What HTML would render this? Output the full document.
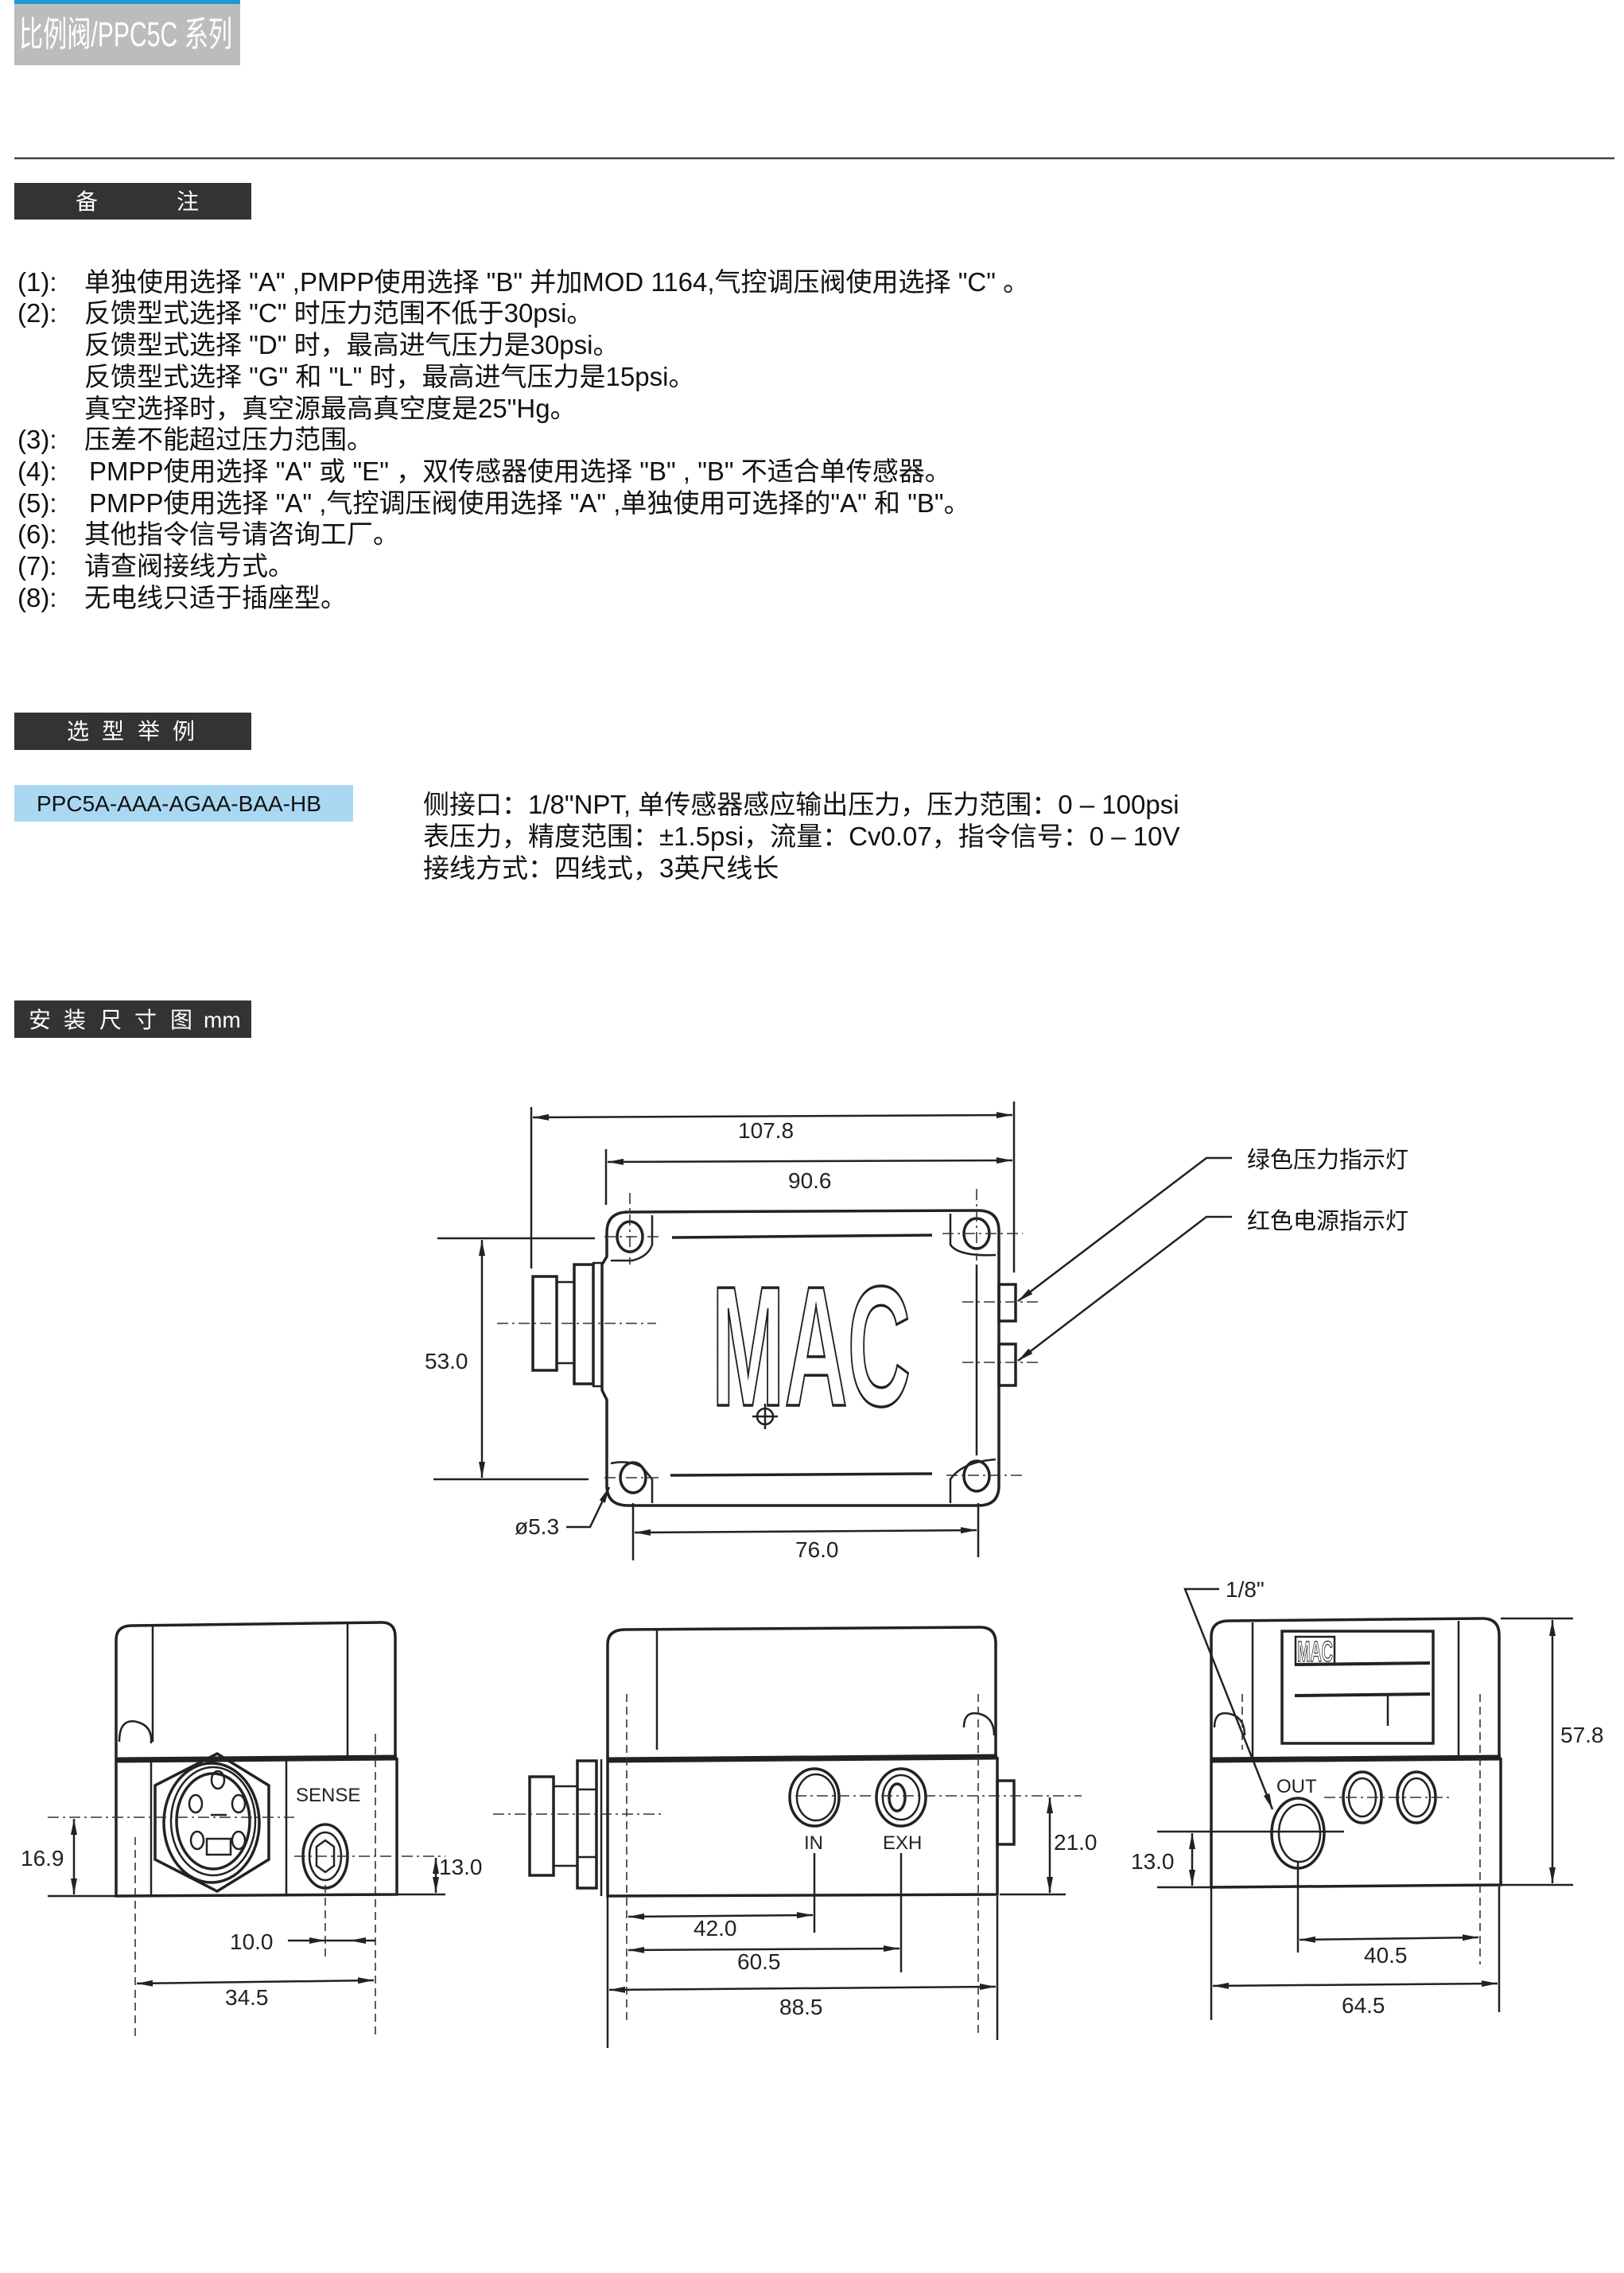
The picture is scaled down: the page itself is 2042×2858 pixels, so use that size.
<!DOCTYPE html>
<html><head><meta charset="utf-8"><style>
html,body{margin:0;padding:0;background:#fff;}
svg{display:block;}
.t{font-family:"Liberation Sans","Noto Sans CJK SC",sans-serif;fill:#111;}
.d{font-family:"Liberation Sans",sans-serif;font-size:28px;fill:#222;}
.ln{stroke:#222;stroke-width:2.5;fill:none;}
.bd{stroke:#222;stroke-width:3.5;fill:none;}
.cl{stroke:#333;stroke-width:1.6;fill:none;stroke-dasharray:14 5 3 5;}
.dh{stroke:#333;stroke-width:1.6;fill:none;stroke-dasharray:10 6;}
</style></head><body>
<svg width="2042" height="2858" viewBox="0 0 2042 2858" xmlns="http://www.w3.org/2000/svg">
<defs>
<marker id="a" viewBox="0 0 20 10" refX="20" refY="5" markerWidth="20" markerHeight="10" markerUnits="userSpaceOnUse" orient="auto-start-reverse"><path d="M0,1 L20,5 L0,9 Z" fill="#222"/></marker>
</defs>
<!-- header -->
<rect x="18" y="0" width="284" height="82" fill="#bcbcbc"/>
<rect x="18" y="0" width="284" height="5" fill="#1a9ad6"/>
<text x="24" y="58" class="t" style="font-size:44px;fill:#fff" textLength="268" lengthAdjust="spacingAndGlyphs">比例阀/PPC5C 系列</text>
<line x1="18" y1="199" x2="2030" y2="199" stroke="#444" stroke-width="2.5"/>

<!-- 备注 -->
<rect x="18" y="230" width="298" height="46" fill="#333"/>
<text x="95" y="263" class="t" style="font-size:28px;fill:#fff">备</text>
<text x="222" y="263" class="t" style="font-size:28px;fill:#fff">注</text>

<g class="t" style="font-size:33px">
<text x="22" y="366">(1):</text><text x="106" y="366">单独使用选择 "A" ,PMPP使用选择 "B" 并加MOD 1164,气控调压阀使用选择 "C" 。</text>
<text x="22" y="405">(2):</text><text x="106" y="405">反馈型式选择 "C" 时压力范围不低于30psi。</text>
<text x="106" y="445">反馈型式选择 "D" 时，最高进气压力是30psi。</text>
<text x="106" y="485">反馈型式选择 "G" 和 "L" 时，最高进气压力是15psi。</text>
<text x="106" y="525">真空选择时，真空源最高真空度是25"Hg。</text>
<text x="22" y="564">(3):</text><text x="106" y="564">压差不能超过压力范围。</text>
<text x="22" y="604">(4):</text><text x="112" y="604">PMPP使用选择 "A" 或 "E" ，双传感器使用选择 "B" , "B" 不适合单传感器。</text>
<text x="22" y="644">(5):</text><text x="112" y="644">PMPP使用选择 "A" ,气控调压阀使用选择 "A" ,单独使用可选择的"A" 和 "B"。</text>
<text x="22" y="683">(6):</text><text x="106" y="683">其他指令信号请咨询工厂。</text>
<text x="22" y="723">(7):</text><text x="106" y="723">请查阀接线方式。</text>
<text x="22" y="763">(8):</text><text x="106" y="763">无电线只适于插座型。</text>
</g>

<!-- 选型举例 -->
<rect x="18" y="896" width="298" height="47" fill="#333"/>
<g class="t" style="font-size:28px;fill:#fff"><text x="84" y="929">选</text><text x="128" y="929">型</text><text x="173" y="929">举</text><text x="217" y="929">例</text></g>
<rect x="18" y="987" width="426" height="46" fill="#aad8f2"/>
<text x="46" y="1020" class="t" style="font-size:28px">PPC5A-AAA-AGAA-BAA-HB</text>
<g class="t" style="font-size:33px">
<text x="532" y="1023">侧接口：1/8"NPT, 单传感器感应输出压力，压力范围：0 – 100psi</text>
<text x="532" y="1063">表压力，精度范围：±1.5psi，流量：Cv0.07，指令信号：0 – 10V</text>
<text x="532" y="1103">接线方式：四线式，3英尺线长</text>
</g>

<!-- 安装尺寸图 -->
<rect x="18" y="1258" width="298" height="47" fill="#333"/>
<g class="t" style="font-size:28px;fill:#fff"><text x="36" y="1292">安</text><text x="80" y="1292">装</text><text x="125" y="1292">尺</text><text x="169" y="1292">寸</text><text x="214" y="1292">图</text><text x="256" y="1292">mm</text></g>

<!-- ===== TOP VIEW ===== -->
<g>
<path class="bd" d="M790,1524 L1230,1522 Q1256,1522 1256,1548 L1256,1868 Q1256,1893 1230,1893 L790,1893 Q763,1893 763,1868 L763,1760 L757,1748 L757,1590 L763,1580 L763,1550 Q763,1524 790,1524 Z"/>
<path class="ln" d="M820,1528 L820,1565 Q815,1580 795,1585 L768,1585"/>
<path class="ln" d="M768,1840 Q790,1835 808,1845 L820,1860 L820,1890"/>
<path class="ln" d="M1195,1526 L1195,1565 Q1205,1580 1252,1578"/>
<path class="ln" d="M1252,1835 Q1210,1838 1195,1860 L1195,1890"/>
<line class="ln" x1="1228" y1="1590" x2="1228" y2="1830"/>
<line class="bd" x1="845" y1="1556" x2="1172" y2="1553"/>
<line class="bd" x1="843" y1="1855" x2="1172" y2="1853"/>
<ellipse class="bd" cx="792" cy="1555" rx="16" ry="19"/>
<ellipse class="bd" cx="1228" cy="1551" rx="16" ry="19"/>
<ellipse class="bd" cx="796" cy="1858" rx="16" ry="19"/>
<ellipse class="bd" cx="1228" cy="1856" rx="16" ry="19"/>
<!-- connector -->
<rect class="bd" x="670" y="1605" width="30" height="118"/>
<rect class="ln" x="700" y="1612" width="22" height="102"/>
<rect class="bd" x="722" y="1590" width="24" height="150"/>
<rect class="ln" x="746" y="1588" width="11" height="155"/>
<!-- LEDs -->
<rect class="bd" x="1256" y="1615" width="21" height="46"/>
<rect class="bd" x="1256" y="1690" width="21" height="52"/>
<!-- MAC -->
<text x="895" y="1767" textLength="250" lengthAdjust="spacingAndGlyphs" style="font-family:'Liberation Sans',sans-serif;font-weight:bold;font-size:215px;fill:#fff;stroke:#222;stroke-width:3.5">MAC</text>
<circle class="ln" cx="962" cy="1781" r="10"/>
<line class="ln" x1="946" y1="1781" x2="978" y2="1781"/><line class="ln" x1="962" y1="1765" x2="962" y2="1797"/>
<!-- centerlines -->
<line class="cl" x1="625" y1="1664" x2="825" y2="1664"/>
<line class="cl" x1="760" y1="1555" x2="830" y2="1555"/>
<line class="cl" x1="1185" y1="1551" x2="1286" y2="1551"/>
<line class="cl" x1="760" y1="1858" x2="830" y2="1858"/>
<line class="cl" x1="1190" y1="1855" x2="1290" y2="1855"/>
<line class="cl" x1="1210" y1="1637" x2="1310" y2="1637"/>
<line class="cl" x1="1210" y1="1713" x2="1310" y2="1713"/>
<line class="cl" x1="792" y1="1500" x2="792" y2="1590"/>
<line class="cl" x1="1228" y1="1495" x2="1228" y2="1585"/>
<!-- dims -->
<line class="ln" x1="668" y1="1392" x2="668" y2="1595"/>
<line class="ln" x1="1275" y1="1385" x2="1275" y2="1600"/>
<line class="ln" x1="762" y1="1445" x2="762" y2="1515"/>
<line class="ln" x1="670" y1="1405" x2="1273" y2="1402" marker-start="url(#a)" marker-end="url(#a)"/>
<text x="928" y="1431" class="d">107.8</text>
<line class="ln" x1="764" y1="1461" x2="1273" y2="1459" marker-start="url(#a)" marker-end="url(#a)"/>
<text x="991" y="1494" class="d">90.6</text>
<line class="ln" x1="550" y1="1557" x2="748" y2="1557"/>
<line class="ln" x1="545" y1="1860" x2="740" y2="1860"/>
<line class="ln" x1="606" y1="1559" x2="606" y2="1858" marker-start="url(#a)" marker-end="url(#a)"/>
<text x="534" y="1721" class="d">53.0</text>
<line class="ln" x1="796" y1="1890" x2="796" y2="1962"/>
<line class="ln" x1="1230" y1="1890" x2="1230" y2="1958"/>
<line class="ln" x1="798" y1="1927" x2="1228" y2="1924" marker-start="url(#a)" marker-end="url(#a)"/>
<text x="1000" y="1958" class="d">76.0</text>
<text x="647" y="1929" class="d">ø5.3</text>
<polyline class="ln" points="712,1920 742,1920 766,1870" marker-end="url(#a)"/>
<!-- callouts -->
<text x="1568" y="1468" class="t" style="font-size:29px">绿色压力指示灯</text>
<text x="1568" y="1545" class="t" style="font-size:29px">红色电源指示灯</text>
<polyline class="ln" points="1549,1456 1517,1456 1280,1636" marker-end="url(#a)"/>
<polyline class="ln" points="1549,1530 1517,1530 1280,1711" marker-end="url(#a)"/>
</g>

<!-- ===== LEFT END VIEW ===== -->
<g>
<path class="bd" d="M146,2212 L146,2062 Q146,2044 166,2044 L480,2040 Q497,2040 497,2058 L497,2212"/>
<line class="ln" x1="192" y1="2044" x2="192" y2="2190"/>
<line class="ln" x1="437" y1="2042" x2="437" y2="2210"/>
<path class="ln" d="M150,2190 Q150,2160 172,2165 Q192,2170 190,2192"/>
<line x1="146" y1="2213" x2="499" y2="2210" stroke="#222" stroke-width="7"/>
<path class="bd" d="M146,2212 L146,2384 L499,2382 L499,2210"/>
<line class="ln" x1="190" y1="2214" x2="190" y2="2384"/>
<line class="ln" x1="360" y1="2212" x2="360" y2="2383"/>
<polygon class="bd" points="273,2205 338,2245 338,2338 273,2378 195,2338 195,2245"/>
<ellipse class="bd" cx="266" cy="2292" rx="60" ry="75"/>
<ellipse class="ln" cx="268" cy="2290" rx="53" ry="68"/>
<ellipse class="bd" cx="268" cy="2290" rx="46" ry="60"/>
<ellipse class="ln" cx="274" cy="2238" rx="8" ry="11"/>
<ellipse class="ln" cx="246" cy="2268" rx="8" ry="11"/>
<ellipse class="ln" cx="300" cy="2268" rx="8" ry="11"/>
<ellipse class="ln" cx="248" cy="2314" rx="8" ry="11"/>
<ellipse class="ln" cx="300" cy="2314" rx="8" ry="11"/>
<rect class="ln" x="260" y="2312" width="30" height="20"/>
<line class="ln" x1="265" y1="2282" x2="285" y2="2282"/>
<text x="372" y="2265" class="d" style="font-size:24px">SENSE</text>
<ellipse class="bd" cx="409" cy="2334" rx="28" ry="40"/>
<ellipse class="ln" cx="409" cy="2334" rx="20" ry="30"/>
<polygon class="ln" points="409,2314 420,2322 420,2346 409,2354 398,2346 398,2322"/>
<line class="cl" x1="60" y1="2285" x2="370" y2="2285"/>
<line class="cl" x1="370" y1="2334" x2="560" y2="2334"/>
<line class="dh" x1="170" y1="2310" x2="170" y2="2560"/>
<line class="dh" x1="472" y1="2180" x2="472" y2="2560"/>
<line class="dh" x1="409" y1="2370" x2="409" y2="2460"/>
<line class="ln" x1="60" y1="2384" x2="146" y2="2384"/>
<line class="ln" x1="93" y1="2287" x2="93" y2="2382" marker-start="url(#a)" marker-end="url(#a)"/>
<text x="26" y="2346" class="d">16.9</text>
<line class="ln" x1="500" y1="2382" x2="560" y2="2382"/>
<line class="ln" x1="548" y1="2336" x2="548" y2="2380" marker-start="url(#a)" marker-end="url(#a)"/>
<text x="552" y="2357" class="d">13.0</text>
<text x="289" y="2451" class="d">10.0</text>
<line class="ln" x1="362" y1="2440" x2="409" y2="2440" marker-end="url(#a)"/>
<line class="ln" x1="440" y1="2440" x2="472" y2="2440" marker-start="url(#a)"/>
<line class="ln" x1="409" y1="2440" x2="440" y2="2440"/>
<line class="ln" x1="172" y1="2494" x2="470" y2="2490" marker-start="url(#a)" marker-end="url(#a)"/>
<text x="283" y="2521" class="d">34.5</text>
</g>

<!-- ===== SIDE VIEW ===== -->
<g>
<path class="bd" d="M764,2212 L764,2068 Q764,2049 786,2049 L1232,2046 Q1252,2046 1252,2066 L1252,2208"/>
<line class="ln" x1="826" y1="2050" x2="826" y2="2200"/>
<path class="ln" d="M1212,2172 Q1212,2150 1232,2155 Q1250,2160 1250,2182"/>
<line x1="764" y1="2213" x2="1254" y2="2209" stroke="#222" stroke-width="7"/>
<path class="bd" d="M764,2212 L764,2384 L1254,2382 L1254,2209"/>
<line class="ln" x1="756" y1="2212" x2="756" y2="2384"/>
<rect class="bd" x="726" y="2214" width="24" height="160"/>
<line class="ln" x1="726" y1="2250" x2="750" y2="2250"/><line class="ln" x1="726" y1="2335" x2="750" y2="2335"/>
<rect class="bd" x="666" y="2234" width="30" height="124"/>
<rect class="ln" x="696" y="2246" width="30" height="100"/>
<rect class="bd" x="1254" y="2239" width="21" height="80"/>
<ellipse class="bd" cx="1024" cy="2260" rx="31" ry="36"/>
<ellipse class="ln" cx="1026" cy="2260" rx="24" ry="29"/>
<ellipse class="bd" cx="1133" cy="2260" rx="31" ry="36"/>
<ellipse class="ln" cx="1133" cy="2260" rx="23" ry="28"/>
<ellipse class="bd" cx="1128" cy="2260" rx="10" ry="17"/>
<text x="1011" y="2325" class="d" style="font-size:24px">IN</text>
<text x="1110" y="2325" class="d" style="font-size:24px">EXH</text>
<line class="cl" x1="620" y1="2281" x2="835" y2="2281"/>
<line class="cl" x1="1000" y1="2258" x2="1360" y2="2258"/>
<line class="dh" x1="788" y1="2130" x2="788" y2="2540"/>
<line class="dh" x1="1230" y1="2130" x2="1230" y2="2560"/>
<line class="ln" x1="1024" y1="2330" x2="1024" y2="2430"/>
<line class="ln" x1="1133" y1="2330" x2="1133" y2="2480"/>
<line class="ln" x1="1254" y1="2384" x2="1254" y2="2565"/>
<line class="ln" x1="764" y1="2384" x2="764" y2="2575"/>
<line class="ln" x1="1257" y1="2382" x2="1340" y2="2382"/>
<line class="ln" x1="1320" y1="2260" x2="1320" y2="2380" marker-start="url(#a)" marker-end="url(#a)"/>
<text x="1325" y="2326" class="d">21.0</text>
<line class="ln" x1="790" y1="2410" x2="1022" y2="2408" marker-start="url(#a)" marker-end="url(#a)"/>
<text x="872" y="2434" class="d">42.0</text>
<line class="ln" x1="790" y1="2452" x2="1131" y2="2450" marker-start="url(#a)" marker-end="url(#a)"/>
<text x="927" y="2476" class="d">60.5</text>
<line class="ln" x1="766" y1="2502" x2="1252" y2="2498" marker-start="url(#a)" marker-end="url(#a)"/>
<text x="980" y="2533" class="d">88.5</text>
</g>

<!-- ===== RIGHT END VIEW ===== -->
<g>
<path class="bd" d="M1523,2212 L1523,2058 Q1523,2038 1545,2038 L1864,2035 Q1885,2035 1885,2056 L1885,2212"/>
<line class="ln" x1="1575" y1="2040" x2="1575" y2="2210"/>
<line class="ln" x1="1834" y1="2038" x2="1834" y2="2210"/>
<path class="ln" d="M1527,2172 Q1527,2150 1547,2155 Q1565,2160 1565,2182"/>
<rect class="bd" x="1612" y="2051" width="190" height="141"/>
<rect class="ln" x="1629" y="2058" width="49" height="35" fill="#fff"/>
<text x="1631" y="2089" style="font-family:'Liberation Sans',sans-serif;font-weight:bold;font-size:36px;fill:#fff;stroke:#222;stroke-width:1.2" textLength="45" lengthAdjust="spacingAndGlyphs">MAC</text>
<line x1="1628" y1="2093" x2="1798" y2="2091" stroke="#222" stroke-width="4"/>
<line x1="1628" y1="2132" x2="1798" y2="2130" stroke="#222" stroke-width="4"/>
<line class="ln" x1="1745" y1="2132" x2="1745" y2="2170"/>
<line x1="1523" y1="2213" x2="1887" y2="2210" stroke="#222" stroke-width="7"/>
<path class="bd" d="M1523,2212 L1523,2373 L1887,2370 L1887,2210"/>
<ellipse class="bd" cx="1632" cy="2305" rx="33" ry="44"/>
<ellipse class="ln" cx="1634" cy="2305" rx="26" ry="36"/>
<ellipse class="bd" cx="1713" cy="2260" rx="24" ry="32"/>
<ellipse class="ln" cx="1713" cy="2260" rx="17" ry="24"/>
<ellipse class="bd" cx="1781" cy="2260" rx="24" ry="32"/>
<ellipse class="ln" cx="1781" cy="2260" rx="17" ry="24"/>
<text x="1605" y="2254" class="d" style="font-size:24px">OUT</text>
<line class="cl" x1="1665" y1="2260" x2="1825" y2="2260"/>
<line class="ln" x1="1455" y1="2303" x2="1690" y2="2303"/>
<line class="ln" x1="1632" y1="2340" x2="1632" y2="2455"/>
<line class="dh" x1="1861" y1="2130" x2="1861" y2="2470"/>
<line class="dh" x1="1562" y1="2130" x2="1562" y2="2200"/>
<line class="ln" x1="1523" y1="2373" x2="1523" y2="2540"/>
<line class="ln" x1="1885" y1="2372" x2="1885" y2="2530"/>
<line class="ln" x1="1455" y1="2373" x2="1523" y2="2373"/>
<line class="ln" x1="1499" y1="2305" x2="1499" y2="2371" marker-start="url(#a)" marker-end="url(#a)"/>
<text x="1422" y="2350" class="d">13.0</text>
<line class="ln" x1="1887" y1="2035" x2="1978" y2="2035"/>
<line class="ln" x1="1887" y1="2370" x2="1978" y2="2370"/>
<line class="ln" x1="1952" y1="2037" x2="1952" y2="2368" marker-start="url(#a)" marker-end="url(#a)"/>
<text x="1962" y="2191" class="d">57.8</text>
<line class="ln" x1="1634" y1="2439" x2="1859" y2="2436" marker-start="url(#a)" marker-end="url(#a)"/>
<text x="1715" y="2468" class="d">40.5</text>
<line class="ln" x1="1525" y1="2497" x2="1883" y2="2494" marker-start="url(#a)" marker-end="url(#a)"/>
<text x="1687" y="2531" class="d">64.5</text>
<text x="1541" y="2008" class="d">1/8"</text>
<polyline class="ln" points="1533,1998 1490,1998 1600,2275" marker-end="url(#a)"/>
</g>
</svg>
</body></html>
